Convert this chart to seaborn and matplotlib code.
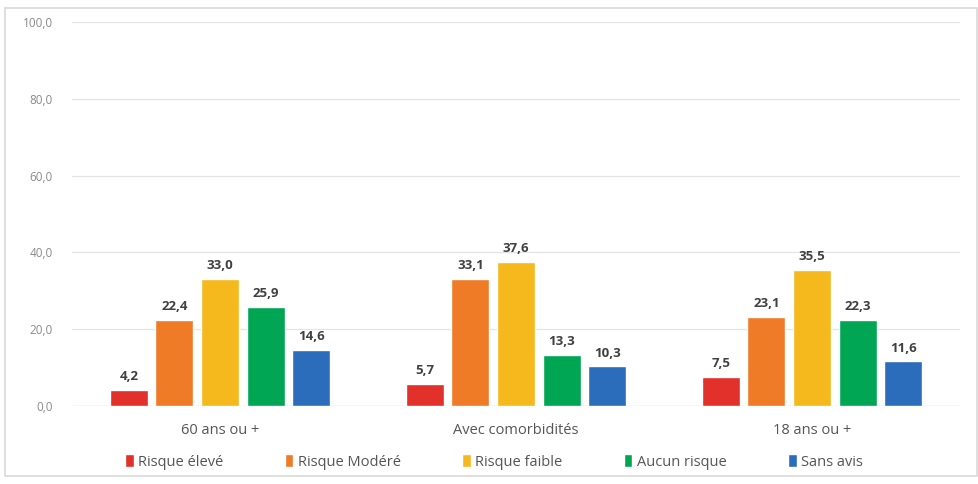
import matplotlib
matplotlib.use("Agg")
import matplotlib.pyplot as plt
from matplotlib.patches import Rectangle, Patch
import seaborn as sns
import pandas as pd

groups = ["60 ans ou +", "Avec comorbidités", "18 ans ou +"]
risks = ["Risque élevé", "Risque Modéré", "Risque faible", "Aucun risque", "Sans avis"]
risque_eleve = [4.2, 5.7, 7.5]
risque_modere = [22.4, 33.1, 23.1]
risque_faible = [33.0, 37.6, 35.5]
aucun_risque = [25.9, 13.3, 22.3]
sans_avis = [14.6, 10.3, 11.6]
colors = ["#E1312A", "#F07B27", "#F5B81D", "#00A653", "#2B6DBA"]

series = [risque_eleve, risque_modere, risque_faible, aucun_risque, sans_avis]
rows = []
for r, vals in zip(risks, series):
    for g, v in zip(groups, vals):
        rows.append({"groupe": g, "risque": r, "valeur": v})
df = pd.DataFrame(rows)

sns.set_style("white")
plt.rcParams["font.family"] = ["Open Sans", "DejaVu Sans"]

fig = plt.figure(figsize=(9.79, 4.84), dpi=100)
ax = fig.add_axes([72 / 979, 78 / 484, 888 / 979, 384 / 484])

sns.barplot(data=df, x="groupe", y="valeur", hue="risque", order=groups,
            hue_order=risks, palette=colors, width=0.77, gap=0.17,
            saturation=1, ax=ax, legend=False)

for cont in ax.containers:
    ax.bar_label(cont, labels=[f"{b.get_height():.1f}".replace(".", ",") for b in cont],
                 padding=5, fontsize=9.5, fontweight="bold", color="#404040")

ax.set_ylim(0, 100)
ax.set_xlim(-0.5, 2.5)
ax.set_yticks([0, 20, 40, 60, 80, 100])
ax.set_yticklabels([f"{t:.1f}".replace(".", ",") for t in [0, 20, 40, 60, 80, 100]],
                   fontsize=8.5, color="#8A8A8A")
ax.tick_params(axis="y", length=0, pad=14)
ax.tick_params(axis="x", length=0, pad=12, labelsize=10.5, labelcolor="#555555")
ax.yaxis.grid(True, color="#E4E4E4", linewidth=0.9)
ax.set_axisbelow(True)
for s in ax.spines.values():
    s.set_visible(False)
ax.axhline(0, color="#DADADA", linewidth=0.9, zorder=0.5)
ax.set_xlabel("")
ax.set_ylabel("")

handles = [Patch(facecolor=c, label=l) for c, l in zip(colors, risks)]
fig.legend(handles=handles, loc="center", bbox_to_anchor=(494 / 979, 1 - 462 / 484),
           ncol=5, frameon=False, fontsize=10.5, handlelength=0.6, handleheight=0.9,
           handletextpad=0.3, columnspacing=4.2, labelcolor="#555555")

fig.patches.append(Rectangle((5 / 979, 1 - 476 / 484), 972 / 979, 468 / 484,
                             transform=fig.transFigure, fill=False,
                             edgecolor="#D9D9D9", linewidth=1.2))

fig.savefig("out.png", dpi=100, facecolor="white")
